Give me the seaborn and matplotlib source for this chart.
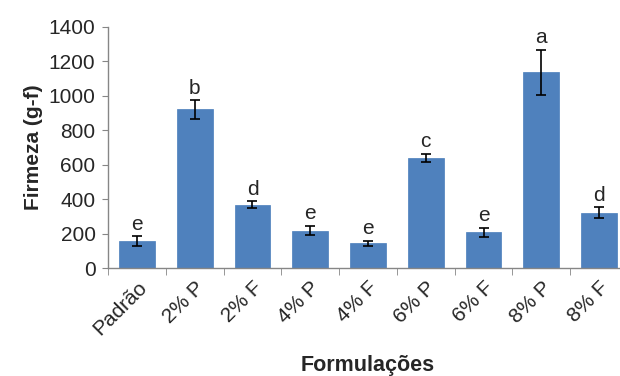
import matplotlib
matplotlib.use("Agg")
import matplotlib.pyplot as plt
import seaborn as sns
import pandas as pd
import numpy as np

categories = ["Padrão", "2% P", "2% F", "4% P", "4% F", "6% P", "6% F", "8% P", "8% F"]
firmeza = [155, 921, 368, 217, 143, 640, 207, 1136, 320]
erros = [30, 53, 20, 27, 15, 25, 28, 132, 32]
letras = ["e", "b", "d", "e", "e", "c", "e", "a", "d"]

sns.set_style("white")
plt.rcParams['font.family'] = ['Liberation Sans', 'DejaVu Sans']

df = pd.DataFrame({"Formulações": categories, "Firmeza": firmeza})

fig = plt.figure(figsize=(6.2, 3.76), dpi=100)
ax = fig.add_axes([108/620, 1-268/376, 520/620, (268-27)/376])

sns.barplot(data=df, x="Formulações", y="Firmeza", color="#4F81BD",
            saturation=1, width=0.62, errorbar=None, ax=ax, edgecolor="#4A7EBB", linewidth=0.5)
xs = np.arange(len(categories))
ax.errorbar(xs, firmeza, yerr=erros, fmt="none", ecolor="black", elinewidth=1.2,
            capsize=3.5, capthick=1.2)
for x, v, e, l in zip(xs, firmeza, erros, letras):
    ax.text(x, v + e + 15, l, ha="center", va="bottom", fontsize=15)

ax.set_ylim(0, 1400)
ax.set_xlim(-0.5, 8.5)
ax.set_yticks(range(0, 1401, 200))
ax.set_yticklabels([str(v) for v in range(0, 1401, 200)], fontsize=15)
ax.set_xticks(xs)
ax.set_xticklabels(categories, rotation=45, ha="right", rotation_mode="anchor", fontsize=15)
ax.tick_params(axis="x", length=0, pad=7)
ax.set_xticks(np.arange(-0.5, 8.6, 1), minor=True)
ax.tick_params(axis="x", which="minor", length=5, color="#868686", direction="out", bottom=True)
ax.tick_params(axis="y", length=4.5, color="#868686", direction="out", left=True, pad=4.5)

for s in ["top", "right"]:
    ax.spines[s].set_visible(False)
for s in ["left", "bottom"]:
    ax.spines[s].set_color("#868686")
    ax.spines[s].set_linewidth(1)

ax.set_ylabel("Firmeza (g-f)", fontsize=15, fontweight="bold", labelpad=4)
ax.set_xlabel("")
fig.text(368/620, 1-366/376, "Formulações", ha="center", va="center", fontsize=15.5, fontweight="bold")

fig.savefig("out.png", dpi=100, facecolor="white")
